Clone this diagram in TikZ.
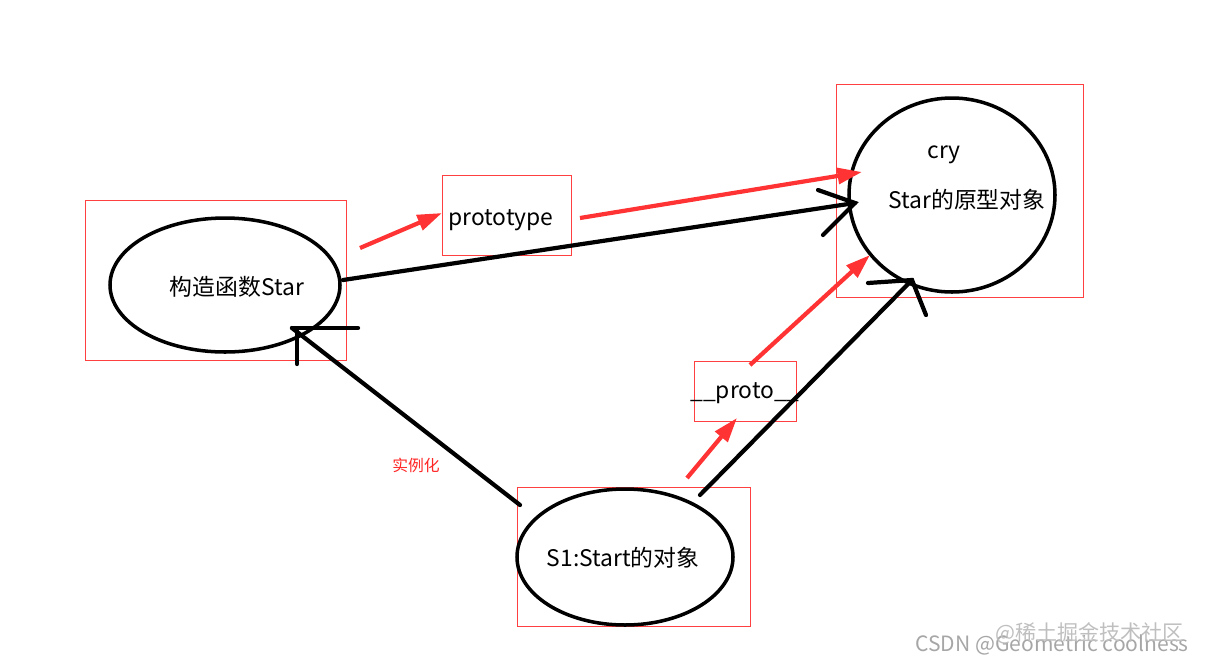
\documentclass[tikz,border=0pt]{standalone}
\usepackage{fontspec}
\setmainfont{Noto Sans CJK SC}
\usetikzlibrary{arrows.meta}
\tikzset{
  box/.style={draw=red!75,line width=0.5pt},
  blk/.style={line width=2.4pt,line cap=round},
  redarr/.style={line width=2.4pt,color=red!80,-{Triangle[length=14pt,width=9pt]}},
  lbl/.style={font=\fontsize{13}{15}\selectfont}
}
\begin{document}
\begin{tikzpicture}[x=0.02cm,y=-0.02cm]
\useasboundingbox (0,0) rectangle (1208,664);
%boxes
\draw[box] (85,200) rectangle (346,360);
\draw[box] (442,175) rectangle (571,255);
\draw[box] (836,84) rectangle (1083,297);
\draw[box] (694,361) rectangle (796,421);
\draw[box] (517,487) rectangle (750,626);
%ovals
\draw[line width=2pt] (225,285) ellipse [x radius=115, y radius=67];
\draw[line width=2pt] (952,195) ellipse [x radius=103, y radius=97];
\draw[line width=2pt] (625,557) ellipse [x radius=108, y radius=68];
\node[lbl] (ctor) at (237,287) {构造函数Star};
\node[lbl] (proto) at (501,220) {prototype};
\node[lbl] (cry) at (944,155) {cry};
\node[lbl] (obj) at (967,200) {Star的原型对象};
\node[lbl] (pp) at (745,393) {\_\_proto\_\_};
\node[lbl] (s1) at (623,558) {S1:Start的对象};
\node[red!85,font=\fontsize{9}{11}\selectfont] (inst) at (416,465) {实例化};
\node[gray!70,anchor=east,font=\fontsize{12}{14}\selectfont] (wm) at (1195,645) {CSDN @Geometric coolness};
\node[gray!50,anchor=east,font=\fontsize{12}{14}\selectfont] (wm2) at (1190,633) {@稀土掘金技术社区};
%connectors
\coordinate (a1) at (343,280); \coordinate (a2) at (855,203);
\draw[blk] (a1) -- (a2);
\draw[blk] (818,190) -- (a2) -- (823,235);
\coordinate (b1) at (520,505); \coordinate (b2) at (292,328);
\draw[blk] (b1) -- (b2);
\draw[blk] (b2) -- (358,328); \draw[blk] (297,330) -- (297,364);
\coordinate (c1) at (700,495); \coordinate (c2) at (912,280);
\draw[blk] (c1) -- (c2);
\draw[blk] (868,283) -- (c2) -- (926,315);
\draw[redarr] (580,218) -- (862,172);
\draw[redarr] (360,248) -- (442,213);
\draw[redarr] (687,478) -- (737,418);
\draw[redarr] (750,365) -- (870,255);
\end{tikzpicture}
\end{document}
